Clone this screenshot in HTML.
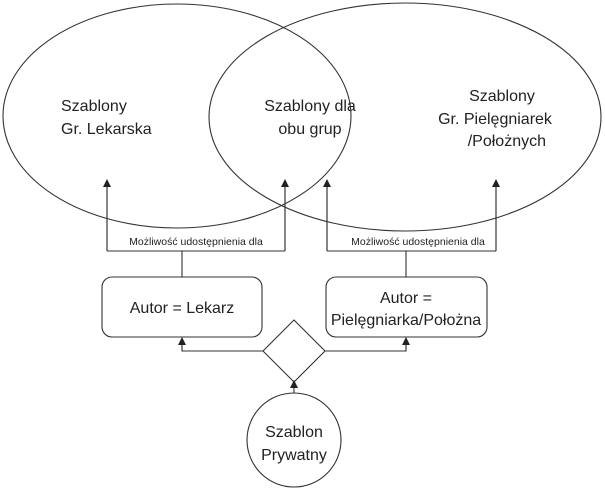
<!DOCTYPE html>
<html><head><meta charset="utf-8"><style>
html,body{margin:0;padding:0;background:#fff;}
svg{display:block;}
text{font-family:"Liberation Sans","DejaVu Sans",sans-serif;fill:#222;}
</style></head><body>
<svg width="605" height="501" viewBox="0 0 605 501" xmlns="http://www.w3.org/2000/svg">
<defs><marker id="a" markerWidth="8" markerHeight="8" refX="4" refY="4" orient="auto" markerUnits="userSpaceOnUse"><path d="M0,0 L8,4 L0,8 z" fill="#222"/></marker></defs>
<g fill="none" stroke="#333" stroke-width="1.1">
<ellipse cx="177" cy="116" rx="174" ry="112"/>
<ellipse cx="405" cy="117" rx="196" ry="114"/>
<path d="M107,251 L285,251 M107,251 L107,182 M285,251 L285,182 M182,251 L182,277" />
<path d="M327,251 L496,251 M327,251 L327,182 M496,251 L496,182 M406,251 L406,277" />
<line x1="107" y1="251" x2="107" y2="183" marker-end="url(#a)"/>
<line x1="285" y1="251" x2="285" y2="183" marker-end="url(#a)"/>
<line x1="327" y1="251" x2="327" y2="183" marker-end="url(#a)"/>
<line x1="496" y1="251" x2="496" y2="183" marker-end="url(#a)"/>
<rect x="102" y="277" width="160" height="60" rx="10"/>
<rect x="326" y="277" width="161" height="60" rx="10"/>
<polygon points="294,320 325,351 294,382 263,351"/>
<path d="M263,351 L182,351 L182,342 M325,351 L406,351 L406,342"/>
<line x1="182" y1="351" x2="182" y2="341" marker-end="url(#a)"/>
<line x1="406" y1="351" x2="406" y2="341" marker-end="url(#a)"/>
<line x1="294" y1="393" x2="294" y2="384" marker-end="url(#a)"/>
<circle cx="294" cy="440" r="47"/>
</g>
<g font-size="16">
<text x="61" y="111">Szablony</text>
<text x="61" y="134">Gr. Lekarska</text>
<text x="310" y="111" text-anchor="middle">Szablony dla</text>
<text x="310" y="134" text-anchor="middle">obu grup</text>
<text x="502" y="101" text-anchor="middle">Szablony</text>
<text x="495" y="124" text-anchor="middle">Gr. Pielęgniarek</text>
<text x="546" y="146" text-anchor="end">/Położnych</text>
<text x="182" y="313" text-anchor="middle">Autor = Lekarz</text>
<text x="406" y="303" text-anchor="middle">Autor =</text>
<text x="406" y="325" text-anchor="middle">Pielęgniarka/Położna</text>
<text x="294" y="437" text-anchor="middle">Szablon</text>
<text x="294" y="460" text-anchor="middle">Prywatny</text>
</g>
<g font-size="10.5">
<text x="196" y="245" text-anchor="middle">Możliwość udostępnienia dla</text>
<text x="418" y="245" text-anchor="middle">Możliwość udostępnienia dla</text>
</g>
</svg>
</body></html>
